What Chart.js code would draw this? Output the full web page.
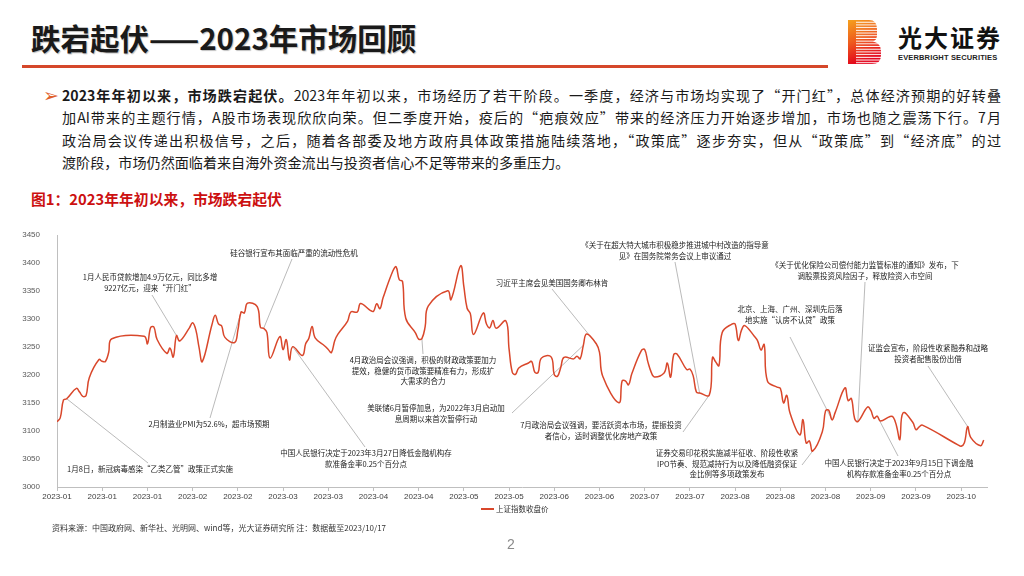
<!DOCTYPE html>
<html>
<head>
<meta charset="utf-8">
<script src="https://cdn.jsdelivr.net/npm/chart.js@4.4.0/dist/chart.umd.min.js"></script>
<style>
  body { margin: 0; width: 1024px; height: 576px; position: relative; overflow: hidden; background: #fff; font-family: "Noto Sans CJK SC", sans-serif; color: #1a1a1a }
  .abs { position: absolute; white-space: nowrap }
  #titulo { left: 31px; top: 19px; font-size: 29.5px; font-weight: 700; line-height: 36px; color: #1a1a1a; text-shadow: 1px 1px 1px rgba(0,0,0,0.25) }
  #linhaTitulo { left: 22px; top: 65px; width: 806px; height: 3px; background: #D5472A }
  #marca { left: 898px; top: 22px; font-size: 24px; font-weight: 700; letter-spacing: 2px; line-height: 30px; color: #111 }
  #marcaEn { left: 898px; top: 53px; font-family: "Liberation Sans", sans-serif; font-size: 7.5px; font-weight: 700; line-height: 9px; letter-spacing: 0.15px; color: #222 }
  #seta { left: 43px; top: 83px; font-family: "DejaVu Sans", sans-serif; font-size: 19px; line-height: 24px; color: #E0602A }
  #texto { left: 62px; top: 84px; width: 939px; font-size: 14.1px; line-height: 22.3px }
  #texto div { text-align: justify; text-align-last: justify; white-space: nowrap }
  #texto div.ultima { text-align-last: left }
  #texto b { font-weight: 700 }
  #figura { left: 31px; top: 189px; font-size: 14.8px; font-weight: 700; line-height: 20px; color: #CC1010 }
  #legLinha { left: 481px; top: 508px; width: 13px; height: 2px; background: #D9472B }
  #legTexto { left: 496px; top: 503px; font-size: 7.5px; line-height: 12px; color: #333 }
  #fonte { left: 52px; top: 521px; font-size: 8px; line-height: 14px; color: #333 }
  #pagina { left: 507px; top: 535px; font-family: "Liberation Sans", sans-serif; font-size: 14px; line-height: 18px; color: #8a8a8a }
  #grafico { position: absolute; left: 0; top: 0 }
</style>
</head>
<body>
<div class="abs" id="titulo">跌宕起伏——2023年市场回顾</div>
<div class="abs" id="linhaTitulo"></div>

<svg class="abs" style="left:848px;top:20px" width="34" height="44" viewBox="0 0 34 44">
  <defs>
    <linearGradient id="degrade" x1="0" y1="0" x2="0.3" y2="1">
      <stop offset="0" stop-color="#F5A21E"/>
      <stop offset="0.5" stop-color="#EE5A1E"/>
      <stop offset="1" stop-color="#E2001A"/>
    </linearGradient>
    <pattern id="listras" width="34" height="2.7" patternUnits="userSpaceOnUse">
      <rect x="0" y="0" width="34" height="1.7" fill="#fff"/>
    </pattern>
    <mask id="mascara">
      <rect x="0" y="0" width="8" height="44" fill="#fff"/>
      <rect x="8" y="0" width="26" height="44" fill="url(#listras)"/>
    </mask>
  </defs>
  <path d="M0,0 H21 Q29,0 29,9 V15 Q29,20 25,21.5 Q33,23 33,31 V35 Q33,44 24,44 H0 Z" fill="url(#degrade)" mask="url(#mascara)"/>
</svg>
<div class="abs" id="marca">光大证券</div>
<div class="abs" id="marcaEn">EVERBRIGHT SECURITIES</div>

<div class="abs" id="seta">➢</div>
<div class="abs" id="texto">
  <div><b>2023年年初以来，市场跌宕起伏。</b>2023年年初以来，市场经历了若干阶段。一季度，经济与市场均实现了“开门红”，总体经济预期的好转叠</div>
  <div>加AI带来的主题行情，A股市场表现欣欣向荣。但二季度开始，疫后的“疤痕效应”带来的经济压力开始逐步增加，市场也随之震荡下行。7月</div>
  <div>政治局会议传递出积极信号，之后，随着各部委及地方政府具体政策措施陆续落地，“政策底”逐步夯实，但从“政策底”到“经济底”的过</div>
  <div class="ultima">渡阶段，市场仍然面临着来自海外资金流出与投资者信心不足等带来的多重压力。</div>
</div>

<div class="abs" id="figura">图1：2023年年初以来，市场跌宕起伏</div>

<canvas id="grafico" width="1024" height="576"></canvas>

<div class="abs" id="legLinha"></div>
<div class="abs" id="legTexto">上证指数收盘价</div>
<div class="abs" id="fonte">资料来源：中国政府网、新华社、光明网、wind等，光大证券研究所 注：数据截至2023/10/17</div>
<div class="abs" id="pagina">2</div>

<script>
// Datas dos pregões de 2023 (mês/dia)
const datas = [
  '1/3','1/4','1/5','1/6','1/9','1/10','1/11','1/12','1/13','1/16','1/17','1/18','1/19','1/20','1/30','1/31',
  '2/1','2/2','2/3','2/6','2/7','2/8','2/9','2/10','2/13','2/14','2/15','2/16','2/17','2/20','2/21','2/22','2/23','2/24','2/27','2/28',
  '3/1','3/2','3/3','3/6','3/7','3/8','3/9','3/10','3/13','3/14','3/15','3/16','3/17','3/20','3/21','3/22','3/23','3/24','3/27','3/28','3/29','3/30','3/31',
  '4/3','4/4','4/6','4/7','4/10','4/11','4/12','4/13','4/14','4/17','4/18','4/19','4/20','4/21','4/24','4/25','4/26','4/27','4/28',
  '5/4','5/5','5/8','5/9','5/10','5/11','5/12','5/15','5/16','5/17','5/18','5/19','5/22','5/23','5/24','5/25','5/26','5/29','5/30','5/31',
  '6/1','6/2','6/5','6/6','6/7','6/8','6/9','6/12','6/13','6/14','6/15','6/16','6/19','6/20','6/21','6/26','6/27','6/28','6/29','6/30',
  '7/3','7/4','7/5','7/6','7/7','7/10','7/11','7/12','7/13','7/14','7/17','7/18','7/19','7/20','7/21','7/24','7/25','7/26','7/27','7/28','7/31',
  '8/1','8/2','8/3','8/4','8/7','8/8','8/9','8/10','8/11','8/14','8/15','8/16','8/17','8/18','8/21','8/22','8/23','8/24','8/25','8/28','8/29','8/30','8/31',
  '9/1','9/4','9/5','9/6','9/7','9/8','9/11','9/12','9/13','9/14','9/15','9/18','9/19','9/20','9/21','9/22','9/25','9/26','9/27','9/28',
  '10/9','10/10','10/11','10/12','10/13','10/16','10/17'
]

// Fechamento do índice (上证指数收盘价) em cada pregão
const fechamentos = [
  3116.5,3123.5,3155.2,3157.6,3176.1,3169.5,3161.8,3163.5,3195.3,3227.6,3224.4,3224.2,3240.3,3264.8,3269.3,3255.7,
  3284.9,3285.7,3263.4,3238.7,3248.1,3232.1,3270.4,3260.7,3284.2,3293.3,3280.5,3249.0,3224.0,3290.3,3306.5,3291.2,3287.5,3267.2,3258.0,3279.6,
  3312.4,3310.7,3328.4,3322.0,3285.1,3283.3,3276.1,3230.1,3268.7,3245.3,3263.3,3226.9,3250.6,3234.9,3255.7,3265.7,3286.7,3265.7,3251.4,3245.4,3240.1,3261.3,3272.9,
  3296.4,3312.6,3312.6,3327.7,3315.4,3313.6,3327.2,3318.4,3338.2,3385.6,3393.3,3370.1,3367.0,3301.3,3275.4,3264.1,3264.9,3285.9,3323.3,
  3350.5,3334.5,3395.0,3357.7,3319.2,3309.6,3272.4,3310.7,3291.0,3284.2,3297.3,3283.5,3296.5,3246.2,3204.8,3201.3,3212.5,3221.5,3224.2,3204.6,
  3204.6,3230.1,3232.4,3200.3,3197.8,3213.6,3231.4,3228.8,3233.7,3229.0,3253.0,3273.3,3255.8,3240.4,3197.9,3150.6,3189.4,3189.4,3182.4,3202.1,
  3244.0,3245.4,3223.0,3205.2,3196.6,3203.7,3221.4,3196.1,3236.5,3237.7,3209.6,3210.7,3198.8,3169.5,3167.8,3164.2,3231.5,3223.1,3216.7,3275.9,3291.0,
  3291.0,3261.7,3280.5,3288.1,3268.8,3260.6,3244.5,3254.6,3189.3,3178.4,3176.2,3150.1,3163.7,3132.0,3093.0,3120.3,3078.4,3082.2,3064.1,3098.6,3135.9,3137.1,3119.9,
  3133.3,3177.1,3154.4,3158.1,3122.4,3116.7,3142.8,3137.1,3122.6,3126.6,3117.7,3125.9,3124.3,3108.6,3084.7,3132.4,3115.6,3102.3,3107.3,3110.5,
  3075.2,3072.8,3079.0,3107.9,3088.1,3073.8,3083.5
]

// Rótulos do eixo x (um a cada 14 dias)
const rotulosX = ['2023-01','2023-01','2023-01','2023-02','2023-02','2023-03','2023-03','2023-04','2023-04','2023-05','2023-05',
  '2023-06','2023-06','2023-07','2023-07','2023-08','2023-08','2023-08','2023-09','2023-09','2023-10']

// Eventos marcados no gráfico: texto, posição do texto, início da linha de chamada e pregão apontado
const anotacoes = [
  { linhas: ['1月8日，新冠病毒感染“乙类乙管”政策正式实施'], cx: 150, cy: 469, de: [148, 463], alvo: '1/6' },
  { linhas: ['1月人民币贷款增加4.9万亿元，同比多增', '9227亿元，迎来“开门红”'], cx: 150, cy: 277, de: [152, 295], alvo: '2/9' },
  { linhas: ['硅谷银行宣布其面临严重的流动性危机'], cx: 294, cy: 253, de: [292, 259], alvo: '3/8' },
  { linhas: ['2月制造业PMI为52.6%，超市场预期'], cx: 209, cy: 424, de: [210, 418], alvo: '3/1' },
  { linhas: ['中国人民银行决定于2023年3月27日降低金融机构存', '款准备金率0.25个百分点'], cx: 366, cy: 453, de: [365, 447], alvo: '3/17' },
  { linhas: ['4月政治局会议强调，积极的财政政策要加力', '提效，稳健的货币政策要精准有力，形成扩', '大需求的合力'], cx: 423, cy: 360, de: [423, 354], alvo: '4/26' },
  { linhas: ['美联储6月暂停加息，为2022年3月启动加', '息周期以来首次暂停行动'], cx: 436, cy: 408, de: [512, 413], alvo: '6/15' },
  { linhas: ['习近平主席会见美国国务卿布林肯'], cx: 552, cy: 283, de: [552, 289], alvo: '6/19' },
  { linhas: ['7月政治局会议强调，要活跃资本市场，提振投资', '者信心，适时调整优化房地产政策'], cx: 601, cy: 425, de: [683, 432], alvo: '7/24' },
  { linhas: ['《关于在超大特大城市积极稳步推进城中村改造的指导意', '见》在国务院常务会议上审议通过'], cx: 675, cy: 245, de: [675, 262], alvo: '7/21' },
  { linhas: ['证券交易印花税实施减半征收、阶段性收紧', 'IPO节奏、规范减持行为以及降低融资保证', '金比例等多项政策发布'], cx: 727, cy: 453, de: [802, 465], alvo: '8/25' },
  { linhas: ['北京、上海、广州、深圳先后落', '地实施“认房不认贷”政策'], cx: 790, cy: 309, de: [790, 337], alvo: '8/31' },
  { linhas: ['《关于优化保险公司偿付能力监管标准的通知》发布，下', '调股票投资风险因子，释放险资入市空间'], cx: 865, cy: 265, de: [865, 282], alvo: '9/8' },
  { linhas: ['中国人民银行决定于2023年9月15日下调金融', '机构存款准备金率0.25个百分点'], cx: 899, cy: 463, de: [898, 456], alvo: '9/14' },
  { linhas: ['证监会宣布，阶段性收紧融券和战略', '投资者配售股份出借'], cx: 928, cy: 348, de: [928, 366], alvo: '10/12' }
]

// Converte 'm/d' para o número de dias desde o primeiro pregão (3 de janeiro)
function diaDoAno(data) {
    const [m, d] = data.split('/').map(Number)
    return (Date.UTC(2023, m - 1, d) - Date.UTC(2023, 0, 3)) / 86400000
}

const pontos = datas.map((d, i) => ({ x: diaDoAno(d), y: fechamentos[i] }))

// Desenha as linhas de chamada (por baixo da curva) e os textos dos eventos
const pluginAnotacoes = {
    id: 'anotacoes',
    beforeDatasetsDraw(chart) {
        const ctx = chart.ctx
        const escX = chart.scales.x
        const escY = chart.scales.y
        ctx.save()
        ctx.strokeStyle = '#A8A8A8'
        ctx.lineWidth = 0.8
        anotacoes.forEach(a => {
            const i = datas.indexOf(a.alvo)
            ctx.beginPath()
            ctx.moveTo(a.de[0], a.de[1])
            ctx.lineTo(escX.getPixelForValue(diaDoAno(a.alvo)), escY.getPixelForValue(fechamentos[i]))
            ctx.stroke()
        })
        ctx.restore()
    },
    afterDraw(chart) {
        const ctx = chart.ctx
        ctx.save()
        ctx.fillStyle = '#222'
        ctx.font = '7.5px "Noto Sans CJK SC"'
        ctx.textAlign = 'center'
        ctx.textBaseline = 'middle'
        anotacoes.forEach(a => {
            a.linhas.forEach((t, k) => ctx.fillText(t, a.cx, a.cy + k * 10.8))
        })
        ctx.restore()
    }
}

const fonteEixo = { family: '"Liberation Sans Narrow", "Liberation Sans", sans-serif', size: 8 }

new Chart(document.getElementById('grafico'), {
    type: 'line',
    data: {
        datasets: [{
            label: '上证指数收盘价',
            data: pontos,
            borderColor: '#D9472B',
            borderWidth: 1.5,
            pointRadius: 0,
            tension: 0.4,
            fill: false
        }]
    },
    options: {
        responsive: false,
        animation: false,
        layout: { padding: { left: 0, top: 235, right: 37, bottom: 69 } },
        plugins: { legend: { display: false }, tooltip: { enabled: false } },
        scales: {
            x: {
                type: 'linear',
                min: 0,
                max: 288,
                afterFit: s => { s.height = 20 },
                border: { color: '#BFBFBF', width: 1 },
                grid: { drawOnChartArea: false, drawTicks: true, tickLength: 4, color: '#BFBFBF' },
                ticks: {
                    stepSize: 14,
                    includeBounds: false,
                    autoSkip: false,
                    maxRotation: 0,
                    padding: 1,
                    color: '#404040',
                    font: fonteEixo,
                    callback: (valor, indice) => rotulosX[indice]
                }
            },
            y: {
                min: 3000,
                max: 3450,
                afterFit: s => { s.width = 57 },
                border: { color: '#BFBFBF', width: 1 },
                grid: { display: false },
                ticks: { stepSize: 50, padding: 9, color: '#595959', font: fonteEixo, callback: valor => String(valor) }
            }
        }
    },
    plugins: [pluginAnotacoes]
})
</script>
</body>
</html>
